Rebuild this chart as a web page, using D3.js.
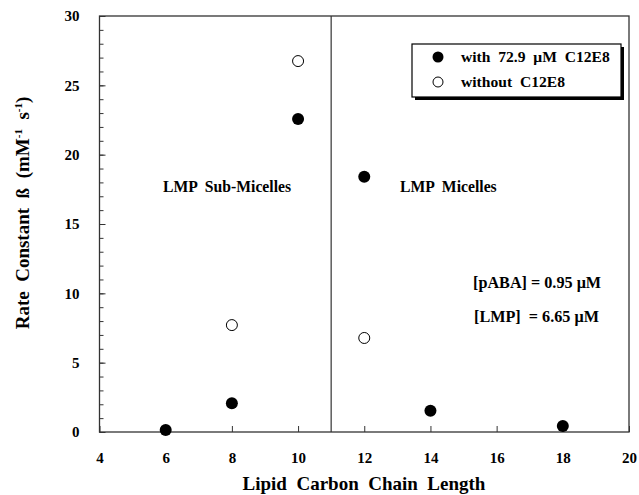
<!DOCTYPE html>
<html>
<head>
<meta charset="utf-8">
<script src="https://cdn.jsdelivr.net/npm/d3@7"></script>
<style>
  body { margin: 0; background: #fff; }
  svg { display: block; }
</style>
</head>
<body>
<svg id="chart" width="639" height="495"></svg>
<script>
// Rate constant vs lipid chain length, with and without C12E8
const withChain = [6, 8, 10, 12, 14, 18];
const withRate = [0.14, 2.07, 22.57, 18.4, 1.54, 0.43];
const withoutChain = [8, 10, 12];
const withoutRate = [7.71, 26.75, 6.78];
const xTicks = [4, 6, 8, 10, 12, 14, 16, 18, 20];
const yTicks = [0, 5, 10, 15, 20, 25, 30];
const yMinor = d3.range(0, 31, 1);
const boundary = 11;

const FONT = "'Liberation Serif', 'Times New Roman', serif";

const svg = d3.select("#chart")
  .attr("font-family", FONT).attr("font-weight", "bold");
const margin = { left: 99.5, right: 10, top: 16, bottom: 63 };
const W = 639, H = 495;
const x = d3.scaleLinear().domain([4, 20]).range([margin.left, W - margin.right]);
const y = d3.scaleLinear().domain([0, 30]).range([H - margin.bottom, margin.top]);

const axisColor = "#333";
const tickFont = 15;

function styleText(sel) {
  sel.attr("font-family", FONT).attr("font-weight", "bold").attr("fill", "#000");
}

// frame
svg.append("rect")
  .attr("x", x(4)).attr("y", y(30))
  .attr("width", x(20) - x(4)).attr("height", y(0) - y(30))
  .attr("fill", "none").attr("stroke", axisColor).attr("stroke-width", 1.3);

// y axis: minor ticks every unit, labels every 5
svg.append("g").attr("transform", `translate(${x(4)},0)`)
  .call(d3.axisRight(y).tickValues(yMinor).tickSize(4).tickFormat(""))
  .call(g => g.select(".domain").remove())
  .call(g => g.selectAll("line").attr("stroke", axisColor).attr("stroke-width", 1));
svg.append("g").attr("transform", `translate(${x(4)},0)`)
  .call(d3.axisRight(y).tickValues(yTicks).tickSize(6).tickFormat(""))
  .call(g => g.select(".domain").remove())
  .call(g => g.selectAll("line").attr("stroke", axisColor).attr("stroke-width", 1));
svg.append("g").attr("transform", `translate(${x(4)},0)`)
  .call(d3.axisLeft(y).tickValues(yTicks).tickSize(0).tickPadding(20).tickFormat(d3.format("d")))
  .call(g => g.select(".domain").remove())
  .call(g => g.attr("font-family", FONT))
  .call(g => g.selectAll("text").attr("font-size", tickFont).call(styleText));

// x axis: inward ticks, labels below
svg.append("g").attr("transform", `translate(0,${y(0)})`)
  .call(d3.axisTop(x).tickValues(xTicks).tickSize(6).tickFormat(""))
  .call(g => g.select(".domain").remove())
  .call(g => g.selectAll("line").attr("stroke", axisColor).attr("stroke-width", 1));
svg.append("g").attr("transform", `translate(0,${y(0)})`)
  .call(d3.axisBottom(x).tickValues(xTicks).tickSize(0).tickPadding(20).tickFormat(d3.format("d")))
  .call(g => g.select(".domain").remove())
  .call(g => g.attr("font-family", FONT))
  .call(g => g.selectAll("text").attr("font-size", tickFont).call(styleText));

// boundary between sub-micelle and micelle regimes
svg.append("line")
  .attr("x1", x(boundary)).attr("x2", x(boundary))
  .attr("y1", y(30)).attr("y2", y(0))
  .attr("stroke", axisColor).attr("stroke-width", 1.2);

// axis titles
svg.append("text")
  .attr("x", 364).attr("y", 490)
  .attr("text-anchor", "middle").attr("font-size", 19)
  .attr("xml:space", "preserve")
  .call(styleText)
  .text("Lipid  Carbon  Chain  Length");

const yt = svg.append("text")
  .attr("transform", "translate(29,213) rotate(-90)")
  .attr("text-anchor", "middle").attr("font-size", 19)
  .attr("xml:space", "preserve")
  .call(styleText);
yt.append("tspan").text("Rate  Constant  ß  (mM");
yt.append("tspan").attr("font-size", 11).attr("dy", -7).text("-1");
yt.append("tspan").attr("font-size", 19).attr("dy", 7).text("  s");
yt.append("tspan").attr("font-size", 11).attr("dy", -7).text("-1");
yt.append("tspan").attr("font-size", 19).attr("dy", 7).text(")");

// data points
const withData = withChain.map((c, i) => ({ c, v: withRate[i] }));
const withoutData = withoutChain.map((c, i) => ({ c, v: withoutRate[i] }));
svg.append("g").selectAll("circle").data(withoutData).join("circle")
  .attr("cx", d => x(d.c)).attr("cy", d => y(d.v)).attr("r", 5.5)
  .attr("fill", "#fff").attr("stroke", "#000").attr("stroke-width", 1);
svg.append("g").selectAll("circle").data(withData).join("circle")
  .attr("cx", d => x(d.c)).attr("cy", d => y(d.v)).attr("r", 6)
  .attr("fill", "#000");

// region labels
svg.append("text").attr("x", 163).attr("y", 192).attr("font-size", 15.7)
  .attr("xml:space", "preserve").call(styleText).text("LMP  Sub-Micelles");
svg.append("text").attr("x", 400).attr("y", 192).attr("font-size", 15.7)
  .attr("xml:space", "preserve").call(styleText).text("LMP  Micelles");

// concentrations
svg.append("text").attr("x", 473).attr("y", 288).attr("font-size", 16.2)
  .call(styleText).text("[pABA] = 0.95 \u03BCM");
svg.append("text").attr("x", 474).attr("y", 322).attr("font-size", 16.2)
  .attr("xml:space", "preserve").call(styleText).text("[LMP]  = 6.65 \u03BCM");

// legend with drop shadow
const lg = svg.append("g");
lg.append("rect").attr("x", 415).attr("y", 47).attr("width", 209).attr("height", 53).attr("fill", "#000");
lg.append("rect").attr("x", 412).attr("y", 44).attr("width", 209).attr("height", 53)
  .attr("fill", "#fff").attr("stroke", "#000").attr("stroke-width", 1.2);
lg.append("circle").attr("cx", 438).attr("cy", 57).attr("r", 5.5).attr("fill", "#000");
lg.append("circle").attr("cx", 438).attr("cy", 82).attr("r", 5).attr("fill", "#fff").attr("stroke", "#000");
lg.append("text").attr("x", 461).attr("y", 62).attr("font-size", 15.6)
  .attr("xml:space", "preserve").call(styleText).text("with  72.9  \u03BCM  C12E8");
lg.append("text").attr("x", 461).attr("y", 87).attr("font-size", 15.6)
  .attr("xml:space", "preserve").call(styleText).text("without  C12E8");
</script>
</body>
</html>
